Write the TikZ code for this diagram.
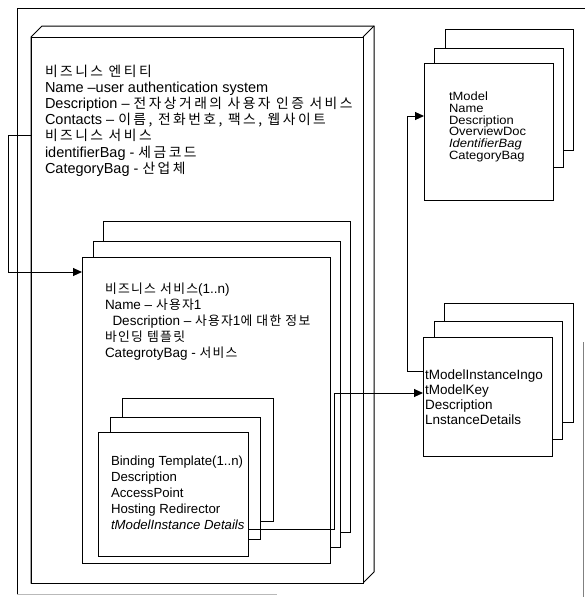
\documentclass[tikz,border=0pt]{standalone}
\usepackage{fontspec}
\setmainfont{Liberation Sans}
\newfontfamily\krfont{Noto Sans CJK KR}[Scale=0.95,LetterSpace=10]
\newfontfamily\krwide{Noto Sans CJK KR}[Scale=0.95,LetterSpace=18]
\newfontfamily\tmfont{Liberation Sans}[FakeStretch=1.08]
\newcommand\kr[1]{{\krfont #1}}
\newcommand\krw[1]{{\krwide #1}}
\usetikzlibrary{arrows.meta}
\tikzset{
  box/.style={draw, fill=white, line width=1pt, inner sep=0pt, outer sep=0pt},
  conn/.style={line width=1pt},
  arr/.style={conn, -{Triangle[length=9pt,width=8pt]}},
  txt/.style={inner sep=0pt, outer sep=0pt, text=black},
}
\newcommand\rbox[5]{\node[box, anchor=north west, minimum width={(#4-#2)*1pt}, minimum height={(#5-#3)*1pt}] (#1) at (#2,#3) {};}
\newcommand\tlines[6]{%
  \foreach \t [count=\i] in {#6} {
    \node[txt, font=#5, anchor=base west] (#1\i) at (#2, {#3+(\i-1)*#4}) {\t};
  }%
}
\begin{document}
\begin{tikzpicture}[x=1pt,y=-1pt]
\useasboundingbox (0,0) rectangle (585,597);
% outer frame
\draw[conn] (17,594) -- (17,8) -- (585,8);
\draw[conn, gray!55] (17,594) -- (277,594);
\draw[conn, gray] (583,342) -- (583,597);
% business entity cuboid
\draw[box] (31,37) -- (42,26) -- (374,26) -- (374,572) -- (363,583) -- (31,583) -- cycle;
\rbox{ent}{31}{37}{363}{583}
\draw[conn] (ent.north east) -- (374,26);
% business service stack
\rbox{bsb}{103}{221}{350}{532}
\rbox{bsm}{93}{241}{340}{547}
\rbox{bsf}{82}{257}{330}{563}
% binding template stack
\rbox{bdb}{122}{398}{273}{521}
\rbox{bdm}{110}{417}{260}{539}
\rbox{bdf}{98}{432}{248}{556}
% tModel stack
\rbox{tmb}{445}{29}{573}{150}
\rbox{tmm}{434}{48}{563}{167}
\rbox{tmf}{424}{63}{553}{200}
% tModelInstance stack
\rbox{tib}{444}{303}{573}{422}
\rbox{tim}{434}{321}{562}{439}
\rbox{tif}{423}{337}{552}{456}
% connectors
\draw[arr] (ent.west |- 0,135) -- (8,135) -- (8,272) -- (bsf.west |- 0,272);
\draw[arr] (bdf.east |- 0,529) -| (334,393) -- (tif.west |- 0,393);
\draw[arr] (tif.west |- 0,371) -| (407,116) -- (tmf.west |- 0,116);
% texts
\tlines{et}{45}{76}{16.2}{\fontsize{14.5}{16}\selectfont}{
  {\krw{비즈니스 엔티티}},
  {Name –user authentication system},
  {Description – \krw{전자상거래의 사용자 인증 서비스}},
  {Contacts – \krw{이름, 전화번호, 팩스, 웹사이트}},
  {\krw{비즈니스 서비스}},
  {identifierBag - \krw{세금코드}},
  {CategoryBag - \krw{산업체}}}
\tlines{bt}{105}{293}{16}{\fontsize{13.5}{16}\selectfont}{
  {\kr{비즈니스 서비스}(1..n)},
  {Name – \kr{사용자}1},
  {\hspace*{7.5pt}Description – \kr{사용자}1\kr{에 대한 정보}},
  {\kr{바인딩 템플릿}},
  {CategrotyBag - \kr{서비스}}}
\tlines{dt}{111}{465}{16}{\fontsize{13.2}{16}\selectfont}{
  {Binding Template(1..n)},
  {Description},
  {AccessPoint},
  {Hosting Redirector},
  {\itshape tModelInstance Details}}
\tlines{mt}{449}{100.5}{11.8}{\tmfont\fontsize{12}{12}\selectfont}{
  {tModel},
  {Name},
  {Description},
  {OverviewDoc},
  {\itshape IdentifierBag},
  {CategoryBag}}
\tlines{it}{425}{379}{15}{\fontsize{13.5}{15}\selectfont}{
  {tModelInstanceIngo},
  {tModelKey},
  {Description},
  {LnstanceDetails}}
\end{tikzpicture}
\end{document}
